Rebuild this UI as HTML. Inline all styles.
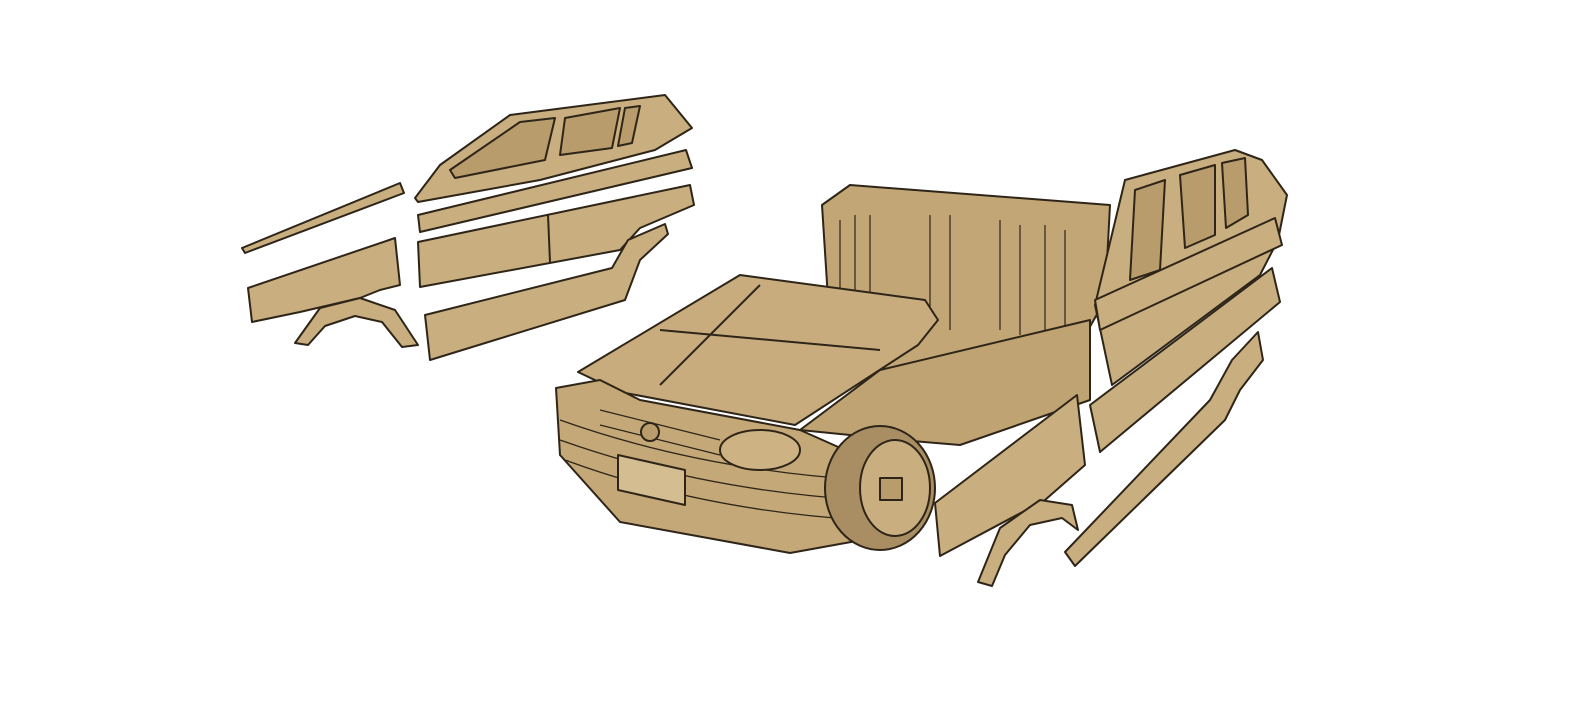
<!DOCTYPE html>
<html><head><meta charset="utf-8"><style>
html,body{margin:0;padding:0;background:#fff;width:1596px;height:720px;overflow:hidden}
svg{display:block}
</style></head><body>
<svg width="1596" height="720" viewBox="0 0 1596 720" xmlns="http://www.w3.org/2000/svg">
<g fill="#c9ae80" stroke="#2e2518" stroke-width="2" stroke-linejoin="round">
<!-- left group -->
<polygon points="415,198 440,165 510,115 665,95 692,128 655,150 540,180 418,202"/>
<polygon points="450,170 520,122 555,118 545,160 455,178" fill="#b89c6c"/>
<polygon points="565,118 620,108 612,148 560,155" fill="#b89c6c"/>
<polygon points="625,108 640,106 632,143 618,146" fill="#b89c6c"/>
<polygon points="418,215 686,150 692,168 420,232"/>
<polygon points="242,248 400,183 404,193 245,253"/>
<polygon points="418,242 690,185 694,205 640,228 620,250 420,287"/>
<line x1="548" y1="215" x2="550" y2="262"/>
<polygon points="248,288 395,238 400,285 380,290 360,298 330,305 300,312 252,322"/>
<polygon points="295,343 320,308 360,298 395,310 418,345 402,347 382,322 355,316 325,326 308,345"/>
<polygon points="425,315 612,268 628,240 665,224 668,234 640,260 625,300 430,360"/>
<!-- seats -->
<polygon points="822,205 850,185 1110,205 1105,300 1060,380 880,390 830,330" fill="#c2a676"/>
<g stroke-width="1.2" fill="none">
<path d="M840,220 L840,300 M855,215 L855,305 M870,215 L870,310 M930,215 L930,320 M950,215 L950,330 M1000,220 L1000,330 M1020,225 L1020,335 M1045,225 L1045,335 M1065,230 L1065,340"/>
</g>
<!-- right door/roof -->
<polygon points="1095,305 1125,180 1235,150 1262,160 1287,195 1278,240 1260,275 1112,385"/>
<polygon points="1135,190 1165,180 1160,270 1130,280" fill="#b89c6c"/>
<polygon points="1180,175 1215,165 1215,235 1185,248" fill="#b89c6c"/>
<polygon points="1222,163 1245,158 1248,215 1226,228" fill="#b89c6c"/>
<!-- hood -->
<polygon points="578,372 740,275 925,300 938,320 918,345 795,425 620,392" fill="#c8ac7d"/>
<line x1="660" y1="330" x2="880" y2="350"/>
<line x1="760" y1="285" x2="660" y2="385"/>
<!-- front -->
<polygon points="556,388 600,380 640,400 800,430 872,462 862,540 790,553 620,522 560,455" fill="#c4a878"/>
<g fill="none" stroke-width="1.3">
<path d="M560,420 Q700,470 865,480 M560,440 Q700,490 863,500 M565,460 Q700,510 862,520"/>
<path d="M600,410 L720,440 M600,425 L720,455"/>
</g>
<polygon points="618,455 685,470 685,505 618,490" fill="#d5bd92"/>
<ellipse cx="760" cy="450" rx="40" ry="20" fill="#cdb283"/>
<circle cx="650" cy="432" r="9" fill="#b89c6c"/>
<!-- mid side wall -->
<polygon points="800,430 880,370 1090,320 1090,400 960,445 900,440" fill="#bfa373"/>
<!-- wheel -->
<ellipse cx="880" cy="488" rx="55" ry="62" fill="#a88e62"/>
<ellipse cx="895" cy="488" rx="35" ry="48" fill="#c9ae80"/>
<rect x="880" y="478" width="22" height="22" fill="#b89c6c"/>
<!-- right side pieces -->
<polygon points="1090,405 1272,268 1280,302 1100,452"/>
<polygon points="1095,300 1275,218 1282,245 1100,330"/>
<polygon points="935,503 1077,395 1085,465 1045,500 940,556"/>
<polygon points="978,582 1000,528 1040,500 1072,505 1078,530 1062,518 1030,525 1005,555 992,586"/>
<polygon points="1065,552 1210,400 1232,360 1258,332 1263,360 1240,390 1225,420 1075,566"/>
</g>
</svg>
</body></html>
